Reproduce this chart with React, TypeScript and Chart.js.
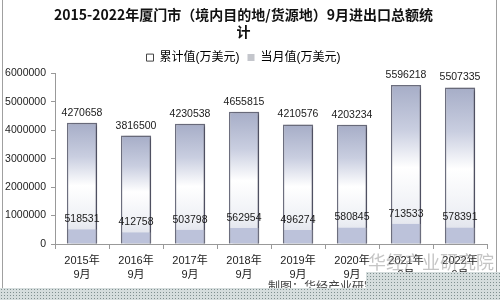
import React, { useEffect, useRef } from "react";
import { Chart, registerables } from "chart.js";

Chart.register(...registerables);

const years = ["2015年", "2016年", "2017年", "2018年", "2019年", "2020年", "2021年", "2022年"];
const monthLabel = "9月";
const cumulative = [4270658, 3816500, 4230538, 4655815, 4210576, 4203234, 5596218, 5507335];
const monthly = [518531, 412758, 503798, 562954, 496274, 580845, 713533, 578391];
const seriesNames = ["累计值(万美元)", "当月值(万美元)"];
const titleLines = ["2015-2022年厦门市（境内目的地/货源地）9月进出口总额统", "计"];
const yMax = 6000000;
const yStep = 1000000;

const NUM_FONT = "'Liberation Sans', Arial, sans-serif";
const CJK_FONT = "'Liberation Sans', 'Noto Sans CJK SC', sans-serif";

export default function App() {
  const ref = useRef<HTMLCanvasElement | null>(null);

  useEffect(() => {
    document.body.style.margin = "0";
    const canvas = ref.current;
    if (!canvas) return;

    const shadowPlugin = {
      id: "barShadow",
      beforeDatasetDraw(chart: any, args: any) {
        const ctx = chart.ctx;
        ctx.save();
        if (args.index === 0) {
          ctx.shadowColor = "rgba(40,40,60,0.45)";
          ctx.shadowOffsetX = 3;
          ctx.shadowOffsetY = 1;
          ctx.shadowBlur = 3;
        }
      },
      afterDatasetDraw(chart: any) {
        chart.ctx.restore();
      },
    };

    const labelPlugin = {
      id: "valueLabels",
      afterDatasetsDraw(chart: any) {
        const ctx = chart.ctx;
        ctx.save();
        ctx.font = `10.5px ${NUM_FONT}`;
        ctx.fillStyle = "#1a1a1a";
        ctx.textAlign = "center";
        ctx.textBaseline = "middle";
        chart.data.datasets.forEach((ds: any, di: number) => {
          const meta = chart.getDatasetMeta(di);
          meta.data.forEach((el: any, i: number) => {
            ctx.fillText(String(ds.data[i]), el.x, el.y - 10);
          });
        });
        ctx.restore();
      },
    };

    const chart = new Chart(canvas, {
      type: "bar",
      data: {
        labels: years.map((y) => [y, monthLabel]),
        datasets: [
          {
            label: seriesNames[0],
            data: cumulative,
            grouped: false,
            order: 2,
            categoryPercentage: 0.8,
            barPercentage: 0.7,
            borderColor: "#6c6e7e",
            borderWidth: 1.5,
            borderSkipped: "bottom",
            backgroundColor: (c: any) => {
              const chart = c.chart;
              const area = chart.chartArea;
              if (!area || c.raw == null || !chart.scales.y) return "#d0d4e2";
              const top = chart.scales.y.getPixelForValue(c.raw);
              const base = chart.scales.y.getPixelForValue(0);
              const g = chart.ctx.createLinearGradient(0, top, 0, base);
              g.addColorStop(0, "#a6adc7");
              g.addColorStop(0.28, "#c9cee0");
              g.addColorStop(0.52, "#ffffff");
              g.addColorStop(0.8, "#eef0f5");
              g.addColorStop(1, "#d6d9e4");
              return g;
            },
          } as any,
          {
            label: seriesNames[1],
            data: monthly,
            grouped: false,
            order: 1,
            categoryPercentage: 0.8,
            barPercentage: 0.7,
            backgroundColor: "#bcc2da",
            borderColor: "#6c6e7e",
            borderWidth: { top: 0, left: 1.5, right: 1.5, bottom: 0 },
            borderSkipped: false,
          } as any,
        ],
      },
      options: {
        responsive: false,
        animation: false,
        events: [],
        layout: { padding: { left: 0, right: 13, top: 0, bottom: 0 } },
        plugins: {
          tooltip: { enabled: false },
          title: {
            display: true,
            text: titleLines,
            color: "#111",
            font: { family: "'Noto Sans CJK SC', sans-serif", size: 14, weight: "bold", lineHeight: 1.2 },
            padding: { top: 6, bottom: 4 },
          },
          legend: {
            display: true,
            labels: {
              boxWidth: 7,
              boxHeight: 7,
              padding: 8,
              color: "#333",
              font: { family: CJK_FONT, size: 12 },
              generateLabels: () => [
                { text: seriesNames[0], fillStyle: "#ffffff", strokeStyle: "#444", lineWidth: 1, datasetIndex: 0, hidden: false },
                { text: seriesNames[1], fillStyle: "#c4c6cc", strokeStyle: "#c4c6cc", lineWidth: 0, datasetIndex: 1, hidden: false },
              ] as any,
            },
          },
        },
        scales: {
          x: {
            grid: { offset: true, drawOnChartArea: false, drawTicks: true, tickLength: 5, color: "#999" },
            border: { display: true, color: "#999" },
            ticks: {
              color: "#222",
              padding: 5,
              maxRotation: 0,
              autoSkip: false,
              font: { family: CJK_FONT, size: 11, lineHeight: 1.3 },
            },
            afterFit: (s: any) => {
              s.height = 56;
            },
          },
          y: {
            min: 0,
            max: yMax,
            grid: { drawOnChartArea: false, drawTicks: true, tickLength: 4, color: "#999" },
            border: { display: true, color: "#999" },
            ticks: {
              stepSize: yStep,
              color: "#222",
              padding: 5,
              font: { family: NUM_FONT, size: 10.5 },
              callback: (v: any) => String(v),
            },
            afterFit: (s: any) => {
              s.width = 55;
            },
          },
        },
      },
      plugins: [shadowPlugin, labelPlugin],
    });

    return () => chart.destroy();
  }, []);

  return (
    <div style={{ position: "fixed", left: 0, top: 0, width: 500, height: 300, background: "#fff", overflow: "hidden" }}>
      <canvas ref={ref} width={500} height={300} style={{ position: "absolute", left: 0, top: 0 }} />
      <div style={{ position: "absolute", left: 2, top: 0, width: 1, height: 290, background: "#a0a0a0" }} />
      <div style={{ position: "absolute", left: 496, top: 0, width: 1, height: 272, background: "#a0a0a0" }} />
      <div
        style={{
          position: "absolute",
          left: 368,
          top: 250,
          fontFamily: "'Noto Sans CJK SC', sans-serif",
          fontSize: 18,
          color: "rgba(150,150,150,0.55)",
          whiteSpace: "nowrap",
          lineHeight: "22px",
        }}
      >
        华经产业研究院
      </div>
      <div
        style={{
          position: "absolute",
          left: 268,
          top: 278,
          fontFamily: "'Noto Sans CJK SC', sans-serif",
          fontSize: 12,
          color: "#444",
          whiteSpace: "nowrap",
          lineHeight: "16px",
        }}
      >
        制图：华经产业研究院
      </div>
      <div
        style={{
          position: "absolute",
          left: 0,
          top: 288,
          width: 500,
          height: 12,
          backgroundColor: "#d5dddd",
          backgroundImage: "radial-gradient(circle, #7f8f8f 0.7px, transparent 1px)",
          backgroundSize: "3px 3px",
        }}
      />
      <div
        style={{
          position: "absolute",
          left: 366,
          top: 272,
          width: 134,
          height: 16,
          backgroundColor: "#d5dddd",
          backgroundImage: "radial-gradient(circle, #7f8f8f 0.7px, transparent 1px)",
          backgroundSize: "3px 3px",
        }}
      />
    </div>
  );
}
